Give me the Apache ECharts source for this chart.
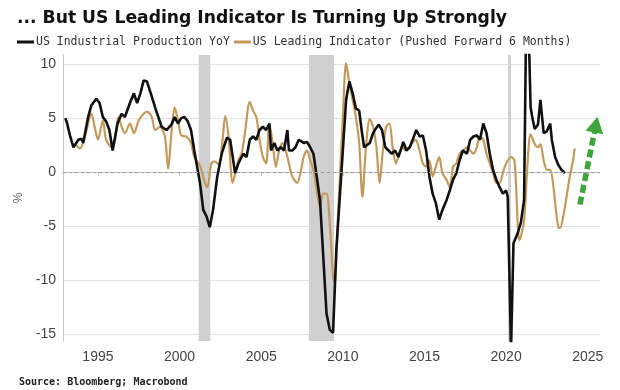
<!DOCTYPE html>
<html>
<head>
<meta charset="utf-8">
<script src="https://cdn.jsdelivr.net/npm/echarts@6/dist/echarts.min.js"></script>
<style>
html,body{margin:0;padding:0;background:#fff;}
#c{width:620px;height:390px;}
</style>
</head>
<body>
<div id="c"></div>
<script>
// ---- Data ----
const seriesNames = ['US Industrial Production YoY', 'US Leading Indicator (Pushed Forward 6 Months)'];

const ipDates = [1993.0,1993.1,1993.3,1993.5,1993.8,1994.0,1994.1,1994.4,1994.6,1994.9,1995.1,1995.3,1995.5,1995.7,1995.9,1996.2,1996.45,1996.65,1996.96,1997.2,1997.4,1997.6,1997.8,1998.0,1998.3,1998.5,1998.7,1998.9,1999.2,1999.5,1999.7,1999.9,2000.1,2000.3,2000.5,2000.7,2000.9,2001.25,2001.45,2001.65,2001.85,2002.05,2002.3,2002.5,2002.6,2002.9,2003.1,2003.4,2003.6,2003.9,2004.1,2004.3,2004.5,2004.7,2004.9,2005.1,2005.3,2005.5,2005.6,2005.8,2006.0,2006.2,2006.4,2006.6,2006.7,2006.9,2007.1,2007.3,2007.6,2007.8,2008.0,2008.2,2008.4,2008.6,2008.8,2009.0,2009.2,2009.4,2009.6,2009.8,2010.0,2010.2,2010.4,2010.6,2010.8,2011.0,2011.15,2011.3,2011.65,2011.85,2011.96,2012.2,2012.4,2012.6,2012.8,2013.0,2013.2,2013.4,2013.6,2013.7,2013.9,2014.1,2014.3,2014.5,2014.7,2014.9,2015.1,2015.3,2015.5,2015.7,2015.9,2016.1,2016.35,2016.55,2016.75,2016.95,2017.15,2017.35,2017.6,2017.8,2018.0,2018.2,2018.4,2018.6,2018.8,2019.0,2019.2,2019.4,2019.6,2019.8,2020.0,2020.1,2020.3,2020.45,2020.7,2020.9,2021.1,2021.25,2021.4,2021.5,2021.6,2021.75,2021.95,2022.1,2022.3,2022.5,2022.7,2022.8,2023.0,2023.2,2023.4,2023.6];
const ipValues = [5.0,4.6,3.3,2.3,3.0,3.1,2.7,5.1,6.2,6.8,6.4,5.1,4.7,3.9,2.0,4.5,5.4,5.1,6.4,7.3,6.4,7.3,8.5,8.4,7.0,6.0,5.1,4.2,3.9,4.4,5.1,4.5,5.0,5.1,4.7,3.9,2.0,-1.0,-3.5,-4.1,-5.1,-3.5,-0.5,1.1,1.8,3.2,3.0,-0.1,0.8,1.7,1.4,3.0,3.3,3.0,3.9,4.2,3.9,4.5,2.0,2.7,2.0,2.3,2.0,3.9,2.0,2.0,2.3,3.0,2.7,2.8,2.3,1.7,-0.4,-2.6,-7.8,-13.1,-14.6,-14.9,-7.2,-2.6,2.0,6.7,8.4,7.3,5.9,5.7,3.9,2.3,2.7,3.6,3.9,4.4,3.9,2.3,2.0,1.7,2.0,1.4,2.3,2.8,2.0,2.3,3.1,3.9,3.3,3.4,2.0,-0.4,-2.0,-2.9,-4.4,-3.5,-2.6,-1.7,-0.7,-0.1,1.1,2.0,1.7,3.0,3.3,3.4,3.0,4.5,3.6,1.7,0.2,-0.7,-1.4,-2.0,-1.7,-2.3,-16.5,-6.6,-5.7,-4.7,-2.6,17.0,12.0,6.0,5.1,4.0,4.4,6.7,3.6,3.8,4.5,3.0,1.4,0.65,0.2,-0.1];

const ldDates = [1993.6,1993.9,1994.2,1994.6,1994.8,1995.0,1995.3,1995.5,1995.85,1996.05,1996.25,1996.45,1996.65,1996.96,1997.2,1997.5,1997.8,1998.0,1998.3,1998.5,1998.8,1999.1,1999.3,1999.5,1999.7,1999.9,2000.1,2000.4,2000.7,2000.9,2001.25,2001.55,2001.7,2001.95,2002.15,2002.4,2002.6,2002.8,2003.0,2003.25,2003.45,2003.6,2003.8,2004.0,2004.3,2004.5,2004.7,2004.9,2005.1,2005.3,2005.5,2005.7,2005.9,2006.1,2006.3,2006.5,2006.7,2006.9,2007.2,2007.4,2007.6,2007.8,2008.0,2008.2,2008.4,2008.6,2008.8,2009.0,2009.2,2009.4,2009.5,2009.7,2010.0,2010.2,2010.4,2010.6,2010.8,2011.0,2011.2,2011.4,2011.65,2011.85,2012.05,2012.25,2012.45,2012.65,2012.85,2013.05,2013.25,2013.45,2013.65,2013.85,2014.05,2014.25,2014.45,2014.65,2014.9,2015.1,2015.3,2015.5,2015.7,2015.9,2016.1,2016.35,2016.55,2016.75,2016.95,2017.15,2017.35,2017.6,2017.8,2018.0,2018.2,2018.4,2018.6,2018.8,2019.0,2019.2,2019.4,2019.6,2019.8,2020.0,2020.3,2020.5,2020.6,2020.8,2020.9,2021.1,2021.3,2021.5,2021.75,2021.95,2022.1,2022.3,2022.5,2022.7,2022.9,2023.05,2023.2,2023.3,2023.5,2023.7,2023.9,2024.1,2024.2];
const ldValues = [2.6,2.2,3.3,5.4,4.2,3.0,4.8,3.0,2.3,3.0,5.1,4.2,3.6,4.5,3.6,4.8,5.4,5.6,5.1,3.9,4.2,3.3,0.3,3.6,6.0,4.8,3.4,3.3,2.7,1.4,0.6,-1.0,-1.4,0.8,1.0,0.7,2.5,5.2,3.3,-1.0,0.2,1.1,1.7,3.6,6.5,5.7,5.1,3.0,1.4,0.8,4.5,2.7,0.5,2.0,2.7,2.0,0.8,-0.4,-1.0,-0.1,1.4,2.0,1.1,0.2,-1.7,-3.2,-2.0,-2.0,-4.75,-9.7,-10.3,-4.1,5.1,10.1,8.2,6.7,5.1,2.7,-2.3,2.0,4.9,4.2,2.4,-1.0,2.0,4.2,4.5,2.3,0.8,1.7,2.3,2.0,2.3,2.7,3.0,2.3,0.8,0.5,1.1,-0.4,0.5,1.4,-0.1,-0.7,-1.4,0.5,0.8,1.7,2.0,2.3,2.0,1.7,2.3,3.3,3.0,1.7,0.8,-0.1,-1.0,-1.0,-0.1,0.8,1.4,1.1,-1.0,-6.3,-6.0,-4.5,0.5,3.5,2.6,2.3,2.6,1.1,0.2,0.2,-1.4,-3.5,-5.1,-5.2,-4.1,-2.3,-0.4,1.1,2.2];

const recessions = [[2001.17, 2001.88], [2007.92, 2009.46], [2020.12, 2020.30]];
const xTickYears = [1995, 2000, 2005, 2010, 2015, 2020, 2025];
const yTickLabels = [-15, -10, -5, 0, 5, 10];
const yGridValues = [-15, -10, -5, 5, 10];
const arrowFrom = [2024.52, -3.0];
const arrowTo = [2025.5, 4.4];

const zip = (a, b) => a.map((d, i) => [d, b[i]]);

const chart = echarts.init(document.getElementById('c'), null, {renderer: 'canvas'});
chart.setOption({
  animation: false,
  backgroundColor: '#fff',
  title: [
    {
      text: '... But US Leading Indicator Is Turning Up Strongly',
      left: 12, top: 5,
      textStyle: {fontFamily: 'DejaVu Sans', fontWeight: 'bold', fontSize: 17.2, color: '#111'}
    },
    {
      text: 'Source: Bloomberg; Macrobond',
      left: 14, top: 372,
      textStyle: {fontFamily: 'DejaVu Sans Mono', fontWeight: 'bold', fontSize: 10, color: '#222'}
    }
  ],
  legend: {
    left: 12, top: 31,
    itemGap: 4, itemWidth: 17, itemHeight: 3,
    icon: 'rect',
    data: seriesNames,
    textStyle: {fontFamily: 'DejaVu Sans Mono', fontSize: 11.5, color: '#333', padding: [0,0,0,-3]}
  },
  grid: {left: 63, right: 20, top: 55, bottom: 49},
  xAxis: {
    type: 'value',
    min: 1992.86, max: 2025.75,
    axisLine: {show: true, lineStyle: {color: '#c8c8c8'}},
    axisTick: {show: true, length: 4, customValues: xTickYears, lineStyle: {color: '#c8c8c8'}},
    axisLabel: {customValues: xTickYears, margin: 9, fontFamily: 'Liberation Sans', fontSize: 14, color: '#444',
      formatter: v => String(Math.round(v))},
    splitLine: {show: false}
  },
  yAxis: {
    type: 'value',
    min: -15.65, max: 10.85,
    name: '%', nameLocation: 'middle', nameRotate: 90, nameGap: 37,
    nameTextStyle: {fontFamily: 'Liberation Sans', fontSize: 12, color: '#666'},
    axisLine: {show: true, lineStyle: {color: '#c8c8c8'}},
    axisTick: {show: false, customValues: yGridValues},
    axisLabel: {customValues: yTickLabels, margin: 7, fontFamily: 'Liberation Sans', fontSize: 14, color: '#444'},
    splitLine: {show: true, lineStyle: {color: '#e2e2e2', width: 1}}
  },
  series: [
    {
      name: 'recessions', type: 'line', data: [], silent: true, z: 1,
      markArea: {
        silent: true,
        itemStyle: {color: '#d0d0d0'},
        data: recessions.map(r => [{xAxis: r[0]}, {xAxis: r[1]}])
      }
    },
    {
      name: 'zero', type: 'line', data: [], silent: true, z: 2,
      markLine: {
        silent: true, symbol: 'none', label: {show: false},
        lineStyle: {color: '#9a9a9a', type: [3, 3], width: 1},
        data: [{yAxis: 0}]
      }
    },
    {
      name: seriesNames[1], type: 'line', z: 3,
      data: zip(ldDates, ldValues),
      showSymbol: false, symbol: 'none', smooth: 0.3,
      color: '#C49A5C',
      lineStyle: {width: 2.2, color: '#C49A5C'}
    },
    {
      name: seriesNames[0], type: 'line', z: 4,
      data: zip(ipDates, ipValues),
      showSymbol: false, symbol: 'none',
      color: '#111',
      lineStyle: {width: 2.6, color: '#111'}
    },
    {
      name: 'arrow', type: 'line', data: [], silent: true, z: 5,
      markLine: {
        silent: true, symbol: ['none', 'triangle'], symbolSize: [18, 16],
        label: {show: false},
        lineStyle: {color: '#3DA53A', type: [8, 4], width: 5.5},
        data: [[{coord: arrowFrom}, {coord: arrowTo}]]
      }
    }
  ]
});
</script>
</body>
</html>
